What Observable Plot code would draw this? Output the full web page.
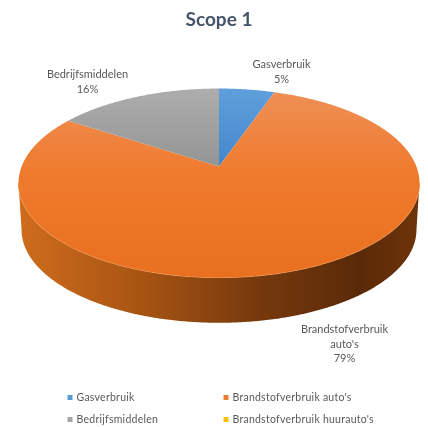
<!DOCTYPE html>
<html><head><meta charset="utf-8">
<script src="https://cdn.jsdelivr.net/npm/d3@7"></script>
<script src="https://cdn.jsdelivr.net/npm/@observablehq/plot@0.6"></script>
<style>html,body{margin:0;padding:0;background:#fff}svg{display:block;filter:blur(.35px)}</style>
</head><body><div id="chart"></div>
<script>
const categories = ["Gasverbruik", "Brandstofverbruik auto's", "Bedrijfsmiddelen", "Brandstofverbruik huurauto's"];
const values = [5.3, 78.9, 15.8, 0];
const labels = ["5%", "79%", "16%", ""];
const legendColors = ["#5b9bd5", "#ed7d31", "#a5a5a5", "#ffc000"];
const sliceFills = ["url(#gBlue)", "url(#gOrange)", "url(#gGray)", "#ffc000"];

// tilted-disc projection of the pie
const cx = 218.5, cy = 166, A = 197.4, B = 91.6, P = 0.1746, depth = 47;
const proj = (t, k = 1, dy = 0) => {
  const s = 1 / (1 + P * Math.cos(t));
  return {x: cx + k * A * Math.sin(t) * s, y: cy - k * B * Math.cos(t) * s + dy};
};
const total = d3.sum(values);
let acc = 0;
const slices = values.map((v, i) => {
  const a0 = acc / total * 2 * Math.PI; acc += v;
  const a1 = acc / total * 2 * Math.PI;
  const n = Math.max(2, Math.ceil((a1 - a0) / 0.01));
  const pts = d3.range(n + 1).map(j => proj(a0 + (a1 - a0) * j / n));
  return {fill: sliceFills[i], pts: [{x: cx, y: cy}, ...pts, {x: cx, y: cy}], v};
}).filter(d => d.v > 0);

// visible rim: from the widest point on the right, round the front, to the widest point on the left
const tR = Math.acos(-P), tL = 2 * Math.PI - tR;
const rimN = 300;
const rimTop = d3.range(rimN + 1).map(j => proj(tR + (tL - tR) * j / rimN));
const rimBot = d3.range(rimN + 1).map(j => proj(tL - (tL - tR) * j / rimN, 0.985, depth));
const rim = [...rimTop, ...rimBot];

const dataLabels = [
  {lines: [categories[0], labels[0]], x: 281, y: 64},
  {lines: [categories[2], labels[2]], x: 87, y: 74},
  {lines: ["Brandstofverbruik", "auto's", labels[1]], x: 344, y: 329}
].flatMap(d => d.lines.map((t, i) => ({t, x: d.x, y: d.y + i * 14.5})));

const legend = categories.map((c, i) => ({
  c, color: legendColors[i], x: i % 2 ? 223 : 67, y: i < 2 ? 397 : 419
}));

const grad = (id, stops, horiz) =>
  `<linearGradient id="${id}" x1="0" y1="0" x2="${horiz ? 1 : 0}" y2="${horiz ? 0 : 1}">` +
  stops.map(([o, c]) => `<stop offset="${o}" stop-color="${c}"/>`).join("") + `</linearGradient>`;

const defs = () => {
  const g = document.createElementNS("http://www.w3.org/2000/svg", "defs");
  g.innerHTML =
    grad("gBlue", [[0, "#5f9fdb"], [1, "#4487cc"]]) +
    grad("gGray", [[0, "#adadad"], [1, "#949494"]]) +
    grad("gOrange", [[0, "#ee8f55"], [0.45, "#f07a2c"], [1, "#e8701f"]]) +
    grad("gRim", [[0, "#cf6c1d"], [0.3, "#a85512"], [0.6, "#76390d"], [0.85, "#5a2a08"], [1, "#6e3409"]], true);
  return g;
};

const font = "Lato, 'Open Sans', sans-serif";
const spaced = (index, scales, values, dimensions, context, next) => {
  const g = next(index, scales, values, dimensions, context);
  g.style.letterSpacing = ".25px";
  return g;
};
const plot = Plot.plot({
  width: 428, height: 427, margin: 0,
  x: {domain: [0, 428], range: [0, 428], axis: null},
  y: {domain: [0, 427], range: [0, 427], axis: null},
  style: {background: "#fff", fontFamily: font},
  marks: [
    defs,
    Plot.line(rim, {x: "x", y: "y", fill: "url(#gRim)", stroke: "none"}),
    Plot.line(rimTop, {x: "x", y: "y", stroke: "#f3a468", strokeWidth: 1.2, fill: "none"}),
    ...slices.map(s => Plot.line(s.pts, {x: "x", y: "y", fill: s.fill, stroke: "none"})),
    Plot.text(["Scope 1"], {x: () => 218.5, y: () => 19, fontSize: 19, fontWeight: 700, fill: "#44546a", fontFamily: font}),
    Plot.text(dataLabels, {x: "x", y: "y", text: "t", fontSize: 11, fill: "#595959", fontFamily: font}),
    Plot.dot(legend, {x: d => d.x + 2.5, y: "y", symbol: "square", r: 2.8, fill: "color", stroke: "none"}),
    Plot.text(legend, {x: d => d.x + 9, y: "y", text: "c", textAnchor: "start", fontSize: 10.5, fill: "#595959", fontFamily: font, render: spaced})
  ]
});
document.getElementById("chart").append(plot);
</script></body></html>
